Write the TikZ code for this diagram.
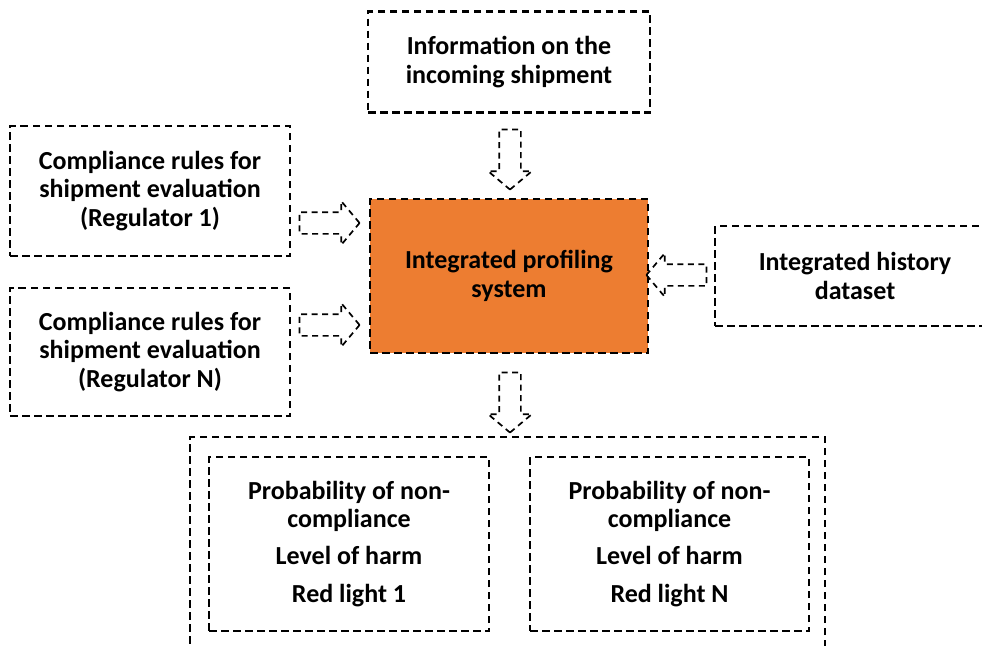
\documentclass[tikz,border=0pt]{standalone}
\usepackage{fontspec}
\setmainfont{Carlito}
\usetikzlibrary{shapes.arrows}
\definecolor{ipsorange}{HTML}{ED7D31}
\newcommand{\shaft}{\phantom{\rule{20pt}{20pt}}}

\begin{document}
\begin{tikzpicture}[x=1pt,y=-1pt,
  box/.style={draw,line width=2.5pt,dash pattern=on 7.5pt off 4.5pt,align=center,inner sep=0pt,
    font=\fontsize{26}{28.5}\selectfont\bfseries},
  blockarrow/.style={draw,single arrow,line width=1.7pt,dash pattern=on 6pt off 4.5pt,
    inner sep=0pt,minimum height=60pt,single arrow head extend=11pt,
    single arrow tip angle=100,single arrow head indent=0pt}]
\useasboundingbox (0,0) rectangle (982,645);

% inputs
\node[box,minimum width=282pt,minimum height=101pt] (info) at (509,62) {Information on the\\incoming shipment};
\node[box,minimum width=280pt,minimum height=130pt] (rulesA) at (150,191) {Compliance rules for\\shipment evaluation\\(Regulator 1)};
\node[box,minimum width=280pt,minimum height=128pt] (rulesN) at (150,352) {Compliance rules for\\shipment evaluation\\(Regulator N)};
\node[box,minimum width=280pt,minimum height=100pt] (hist) at (855,276) {Integrated history\\dataset};

% profiling system
\node[box,fill=ipsorange,minimum width=278pt,minimum height=154pt] (ips) at (509,276) {Integrated profiling\\system};

% outputs
\node[box,minimum width=635pt,minimum height=223pt] (outall) at (507.5,548.5) {};
\node[box,minimum width=280pt,minimum height=174pt] (outA) at (349,544) {Probability of non-\\compliance\\[8pt]Level of harm\\[10pt]Red light 1};
\node[box,minimum width=279pt,minimum height=174pt] (outN) at (669.5,544) {Probability of non-\\compliance\\[8pt]Level of harm\\[10pt]Red light N};

% block arrows
\node[blockarrow,shape border rotate=270] (arrInfo) at (510,155) {\shaft};
\node[blockarrow] (arrA) at (325,223) {\shaft};
\node[blockarrow] (arrN) at (325,325) {\shaft};
\node[blockarrow,shape border rotate=180] (arrHist) at (681,275) {\shaft};
\node[blockarrow,shape border rotate=270] (arrOut) at (510,398) {\shaft};
\end{tikzpicture}
\end{document}
